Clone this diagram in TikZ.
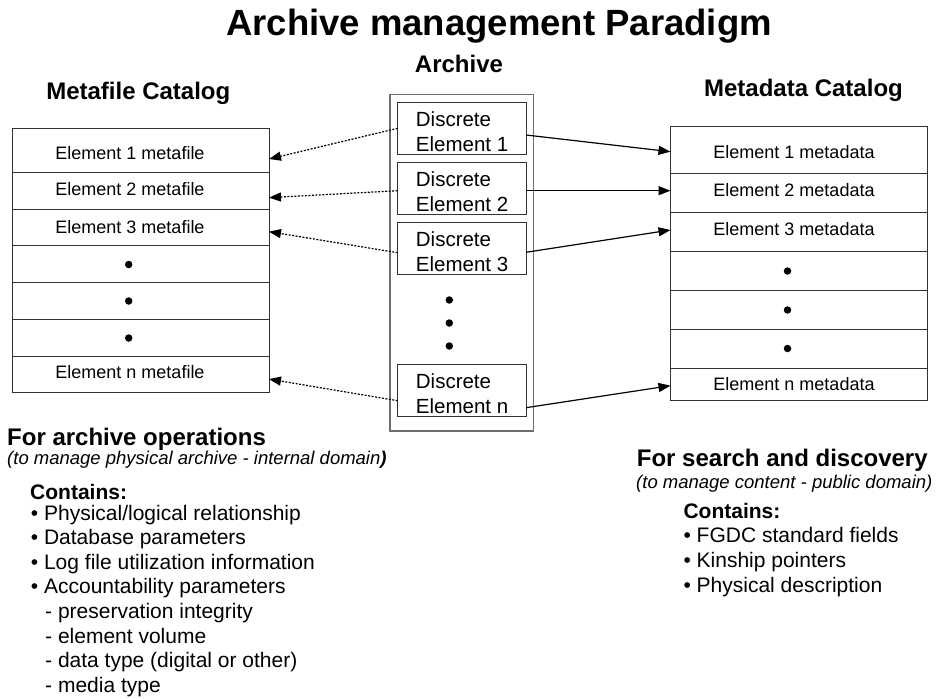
\documentclass[tikz,border=0pt]{standalone}
\usepackage{fontspec}
\setmainfont{Liberation Sans}
\usetikzlibrary{
  arrows.meta,
  positioning
}
\definecolor{EdgeGray}{RGB}{50,50,50}
\definecolor{FrameGray}{RGB}{110,110,110}
\tikzset{
  cell/.style={
    draw=EdgeGray,
    line width=0.9pt,
    minimum width=257pt,
    inner sep=0pt,
    outer sep=0pt
  },
  celltext/.style={font=\fontsize{18}{22}\selectfont, inner sep=0pt},
  discbox/.style={
    draw=EdgeGray,
    fill=white,
    line width=0.9pt,
    minimum width=128.3pt,
    minimum height=52pt,
    inner sep=0pt,
    outer sep=0pt
  },
  % base of a two-line node sits on its last line
  disctext/.style={font=\fontsize{20.5}{25}\selectfont, align=left, anchor=base west, inner sep=0pt},
  bigdot/.style={circle, fill=black, inner sep=0pt, minimum size=7.5pt},
  heading/.style={font=\bfseries\fontsize{24}{28}\selectfont, inner sep=0pt},
  remark/.style={font=\itshape\fontsize{18.5}{22}\selectfont, anchor=base west, inner sep=0pt},
  listhead/.style={font=\bfseries\fontsize{21}{25}\selectfont, anchor=base west, inner sep=0pt},
  listbody/.style={font=\fontsize{21}{24.6}\selectfont, align=left, anchor=base west, inner sep=0pt},
  arrow/.style={-{Triangle[length=12pt,width=9pt]}, line width=1.2pt},
  dotarrow/.style={arrow, dash pattern=on 2pt off 1.5pt}
}

\begin{document}
\begin{tikzpicture}[x=1pt, y=-1pt]
  \useasboundingbox (0,0) rectangle (936,698);

  \node[font=\bfseries\fontsize{36.5}{40}\selectfont, anchor=base, inner sep=0pt] (title) at (499,36) {Archive management Paradigm};
  \node[heading, anchor=base] (archlabel) at (459,73) {Archive};
  \node[heading, anchor=base] (mflabel) at (138.3,100) {Metafile Catalog};
  \node[heading, anchor=base] (mdlabel) at (803.5,97) {Metadata Catalog};

  % metafile catalog
  \node[cell, minimum height=43.6pt] (mf1) at (140.5,150.5) {};
  \node[cell, minimum height=36.7pt, below=0pt of mf1] (mf2) {};
  \node[cell, minimum height=36.9pt, below=0pt of mf2] (mf3) {};
  \node[cell, minimum height=37pt, below=0pt of mf3] (mf4) {};
  \node[cell, minimum height=36.5pt, below=0pt of mf4] (mf5) {};
  \node[cell, minimum height=37pt, below=0pt of mf5] (mf6) {};
  \node[cell, minimum height=36.4pt, below=0pt of mf6] (mf7) {};
  \node[celltext] (mf1t) at (130,153) {Element 1 metafile};
  \node[celltext] (mf2t) at (130,189.5) {Element 2 metafile};
  \node[celltext] (mf3t) at (130,226.7) {Element 3 metafile};
  \node[bigdot] (mfdot1) at (128.7,264.5) {};
  \node[bigdot] (mfdot2) at (128.7,301) {};
  \node[bigdot] (mfdot3) at (128.7,338) {};
  \node[celltext] (mf7t) at (130,372) {Element n metafile};

  % metadata catalog
  \node[cell, minimum height=47pt] (md1) at (799,150.2) {};
  \node[cell, minimum height=39pt, below=0pt of md1] (md2) {};
  \node[cell, minimum height=39pt, below=0pt of md2] (md3) {};
  \node[cell, minimum height=38.6pt, below=0pt of md3] (md4) {};
  \node[cell, minimum height=39pt, below=0pt of md4] (md5) {};
  \node[cell, minimum height=39.4pt, below=0pt of md5] (md6) {};
  \node[cell, minimum height=31.3pt, below=0pt of md6] (md7) {};
  \node[celltext] (md1t) at (794,151.7) {Element 1 metadata};
  \node[celltext] (md2t) at (794,190) {Element 2 metadata};
  \node[celltext] (md3t) at (794,228.7) {Element 3 metadata};
  \node[bigdot] (mddot1) at (787.5,271) {};
  \node[bigdot] (mddot2) at (787.5,310) {};
  \node[bigdot] (mddot3) at (787.5,348.5) {};
  \node[celltext] (md7t) at (794,384) {Element n metadata};

  % archive with its discrete elements
  \node[draw=FrameGray, line width=1.2pt, minimum width=143.5pt, minimum height=336.7pt, inner sep=0pt, outer sep=0pt] (archive) at (461.75,262.65) {};
  \node[discbox] (disc1) at (461.85,128.3) {};
  \node[discbox] (disc2) at (461.85,188.3) {};
  \node[discbox] (disc3) at (461.85,248.3) {};
  \node[discbox] (discn) at (461.85,390.3) {};
  \node[disctext] (disc1t) at (415.7,151.7) {Discrete\\Element 1};
  \node[disctext] (disc2t) at (415.7,211.7) {Discrete\\Element 2};
  \node[disctext] (disc3t) at (415.7,271.7) {Discrete\\Element 3};
  \node[disctext] (discnt) at (415.7,413.7) {Discrete\\Element n};
  \node[bigdot] (archdot1) at (449.3,300) {};
  \node[bigdot] (archdot2) at (449.3,323) {};
  \node[bigdot] (archdot3) at (449.3,346) {};

  \draw[dotarrow] (disc1.west) -- ([yshift=-8.5pt]mf1.east);
  \draw[dotarrow] ([yshift=-2.4pt]disc2.west) -- ([yshift=-7pt]mf2.east);
  \draw[dotarrow] ([yshift=-4.4pt]disc3.west) -- ([yshift=-4.2pt]mf3.east);
  \draw[dotarrow] ([yshift=-10.4pt]discn.west) -- ([yshift=-4.5pt]mf7.east);

  \draw[arrow] ([yshift=-6.7pt]disc1.east) -- ([yshift=-1.5pt]md1.west);
  \draw[arrow] ([yshift=-2.4pt]disc2.east) -- ([yshift=2.5pt]md2.west);
  \draw[arrow] ([yshift=-4pt]disc3.east) -- ([yshift=2.2pt]md3.west);
  \draw[arrow] ([yshift=-17.4pt]discn.east) -- ([yshift=-1.3pt]md7.west);

  % notes under the catalogs
  \node[heading, anchor=base west] (opshead) at (7,445) {For archive operations};
  \node[remark] (opsnote) at (7,464) {(to manage physical archive - internal domain\textbf{)}};
  \node[listhead] (opscont) at (30,499.5) {Contains:};
  \node[listbody] (opslist) at (30.7,692.2) {%
    • Physical/logical relationship\\
    • Database parameters\\
    • Log file utilization information\\
    • Accountability parameters\\
    \hspace*{14.3pt}- preservation integrity\\
    \hspace*{14.3pt}- element volume\\
    \hspace*{14.3pt}- data type (digital or other)\\
    \hspace*{14.3pt}- media type};

  \node[heading, anchor=base west] (srchhead) at (636.7,466) {For search and discovery};
  \node[remark] (srchnote) at (636,488) {(to manage content - public domain)};
  \node[listhead] (srchcont) at (683.3,518.3) {Contains:};
  \node[listbody, font=\fontsize{21}{25}\selectfont] (srchlist) at (683.3,592.7) {%
    • FGDC standard fields\\
    • Kinship pointers\\
    • Physical description};
\end{tikzpicture}
\end{document}
